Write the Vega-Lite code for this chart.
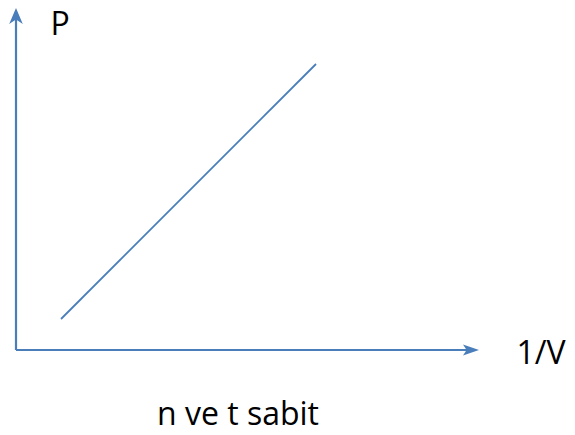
{
  "$schema": "https://vega.github.io/schema/vega-lite/v6.json",
  "width": 575,
  "height": 435,
  "autosize": {"type": "none"},
  "padding": 0,
  "background": "white",
  "config": {"view": {"stroke": null}},
  "datasets": {
    "line": [{"x": 45, "y": 31}, {"x": 300, "y": 286}],
    "xaxis": [{"x": 0, "x2": 456, "y": 0}],
    "yaxis": [{"x": 0, "y": 0, "y2": 334}],
    "xhead": [{"x": 455, "y": 0}],
    "yhead": [{"x": 0, "y": 334}],
    "labels": [
      {"x": 44, "y": 325, "label": "P"},
      {"x": 525, "y": -4, "label": "1/V"},
      {"x": 222, "y": -65, "label": "n ve t sabit"}
    ]
  },
  "layer": [
    {
      "data": {"name": "xaxis"},
      "mark": {"type": "rule", "color": "#4A7EBB", "strokeWidth": 2.2},
      "encoding": {
        "x": {"field": "x", "type": "quantitative", "scale": {"domain": [-16, 559], "nice": false, "zero": false}, "axis": null},
        "x2": {"field": "x2"},
        "y": {"field": "y", "type": "quantitative", "scale": {"domain": [-85, 350], "nice": false, "zero": false}, "axis": null}
      }
    },
    {
      "data": {"name": "yaxis"},
      "mark": {"type": "rule", "color": "#4A7EBB", "strokeWidth": 2.2},
      "encoding": {
        "x": {"field": "x", "type": "quantitative"},
        "y": {"field": "y", "type": "quantitative"},
        "y2": {"field": "y2"}
      }
    },
    {
      "data": {"name": "xhead"},
      "mark": {"type": "point", "filled": true, "opacity": 1, "color": "#4A7EBB", "size": 256, "shape": "M1,0 L-1,-0.7 L-0.55,0 L-1,0.7 Z"},
      "encoding": {
        "x": {"field": "x", "type": "quantitative"},
        "y": {"field": "y", "type": "quantitative"}
      }
    },
    {
      "data": {"name": "yhead"},
      "mark": {"type": "point", "filled": true, "opacity": 1, "color": "#4A7EBB", "size": 256, "shape": "M0,-1 L0.85,1 L0,0.45 L-0.85,1 Z"},
      "encoding": {
        "x": {"field": "x", "type": "quantitative"},
        "y": {"field": "y", "type": "quantitative"}
      }
    },
    {
      "data": {"name": "line"},
      "mark": {"type": "line", "color": "#4A7EBB", "strokeWidth": 1.8},
      "encoding": {
        "x": {"field": "x", "type": "quantitative"},
        "y": {"field": "y", "type": "quantitative"}
      }
    },
    {
      "data": {"name": "labels"},
      "mark": {"type": "text", "font": "Open Sans", "fontSize": 32, "color": "black", "align": "center", "baseline": "middle"},
      "encoding": {
        "x": {"field": "x", "type": "quantitative"},
        "y": {"field": "y", "type": "quantitative"},
        "text": {"field": "label"}
      }
    }
  ]
}
